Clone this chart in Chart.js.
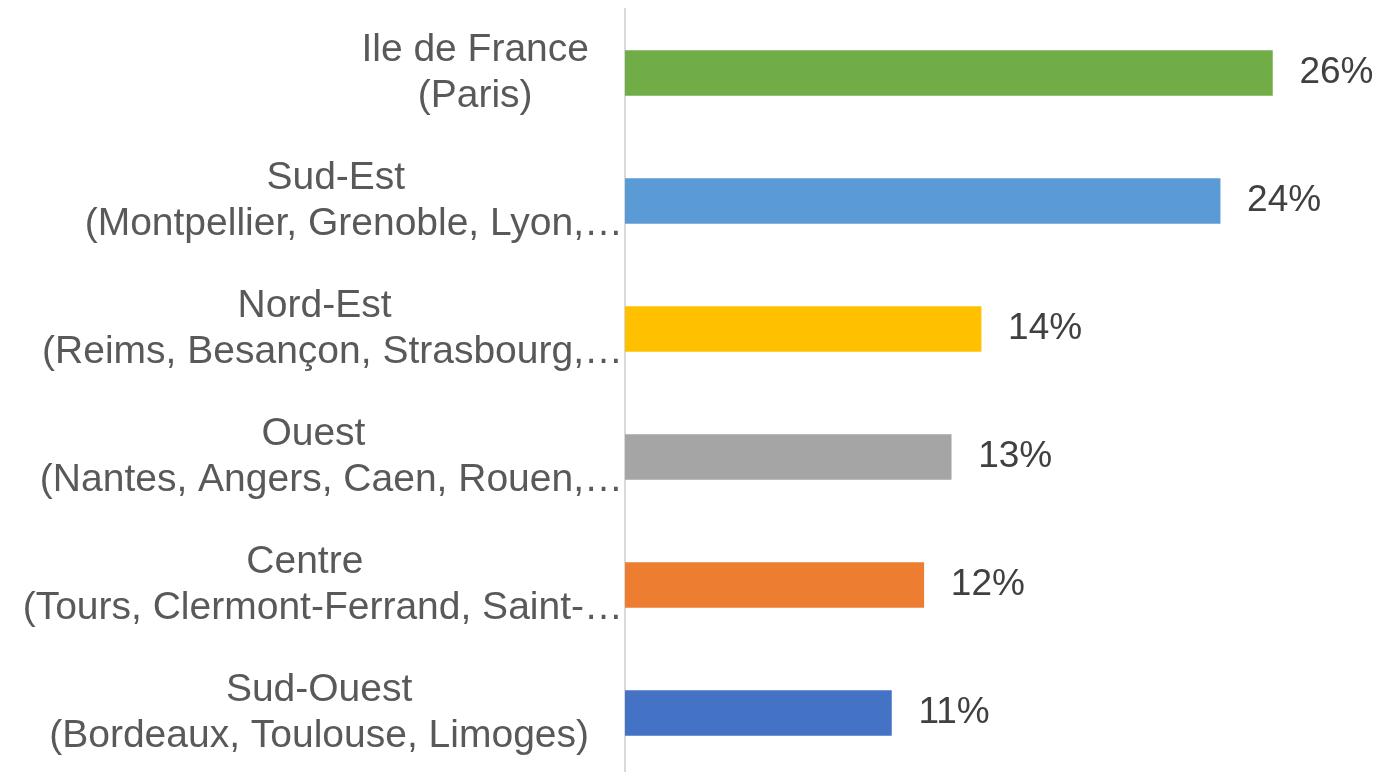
<!DOCTYPE html>
<html lang="fr">
<head>
    <meta charset="UTF-8">
    <title>Répartition par région</title>
    <script src="https://cdn.jsdelivr.net/npm/chart.js"></script>
    <style>
        html, body { margin: 0; padding: 0; background: #fff; overflow: hidden; }
        #wrap { width: 1380px; height: 777px; }
    </style>
</head>
<body>
    <div id="wrap"><canvas id="regionChart" width="1380" height="777"></canvas></div>

    <script>
        // Data
        const regions = [
            ['Ile de France', '(Paris)'],
            ['Sud-Est', '(Montpellier, Grenoble, Lyon,…'],
            ['Nord-Est', '(Reims, Besançon, Strasbourg,…'],
            ['Ouest', '(Nantes, Angers, Caen, Rouen,…'],
            ['Centre', '(Tours, Clermont-Ferrand, Saint-…'],
            ['Sud-Ouest', '(Bordeaux, Toulouse, Limoges)']
        ];
        const shares = [26.0, 23.9, 14.3, 13.1, 12.0, 10.7];
        const shareLabels = ['26%', '24%', '14%', '13%', '12%', '11%'];
        const barColors = ['#70AD47', '#5B9BD5', '#FFC000', '#A5A5A5', '#ED7D31', '#4472C4'];

        // category labels: lines centered on each other, block pushed to the axis
        // (cut lines run flush to the axis, like the clipped text in the original)
        const regionLabels = {
            id: 'regionLabels',
            afterDraw(chart) {
                const ctx = chart.ctx;
                const yScale = chart.scales.y;
                const axisX = chart.chartArea.left;
                ctx.save();
                ctx.font = '39px "Liberation Sans", Arial, sans-serif';
                ctx.fillStyle = '#595959';
                ctx.textBaseline = 'middle';
                regions.forEach((lines, i) => {
                    const cy = yScale.getPixelForValue(i);
                    const w = Math.max(...lines.map(l => ctx.measureText(l).width));
                    const cut = lines.some(l => l.endsWith('…'));
                    const lh = 46;
                    const top = cy - (lines.length - 1) * lh / 2;
                    lines.forEach((l, k) => {
                        if (cut && l.endsWith('…')) {
                            ctx.textAlign = 'right';
                            ctx.fillText(l, axisX - 2, top + k * lh);
                        } else {
                            const cx = cut ? axisX - 2 - (w + 36) / 2 : axisX - 36 - w / 2;
                            ctx.textAlign = 'center';
                            ctx.fillText(l, cx, top + k * lh);
                        }
                    });
                });
                ctx.restore();
            }
        };

        // percentage at the end of each bar
        const valueLabels = {
            id: 'valueLabels',
            afterDatasetsDraw(chart) {
                const ctx = chart.ctx;
                const meta = chart.getDatasetMeta(0);
                ctx.save();
                ctx.font = '37px "Liberation Sans", Arial, sans-serif';
                ctx.fillStyle = '#404040';
                ctx.textAlign = 'left';
                ctx.textBaseline = 'middle';
                meta.data.forEach((bar, i) => {
                    ctx.fillText(shareLabels[i], bar.x + 27, bar.y);
                });
                ctx.restore();
            }
        };

        new Chart(document.getElementById('regionChart'), {
            type: 'bar',
            data: {
                labels: regions,
                datasets: [{
                    data: shares,
                    backgroundColor: barColors,
                    barThickness: 45
                }]
            },
            options: {
                indexAxis: 'y',
                responsive: false,
                animation: false,
                layout: { padding: { top: 9, right: 8, bottom: 0, left: 0 } },
                plugins: {
                    legend: { display: false },
                    tooltip: { enabled: false }
                },
                scales: {
                    x: { display: false, min: 0, max: 30 },
                    y: {
                        grid: { display: false },
                        border: { display: true, color: '#D9D9D9', width: 2 },
                        ticks: { display: false },
                        afterFit: s => { s.width = 625; }
                    }
                }
            },
            plugins: [regionLabels, valueLabels]
        });
    </script>
</body>
</html>
